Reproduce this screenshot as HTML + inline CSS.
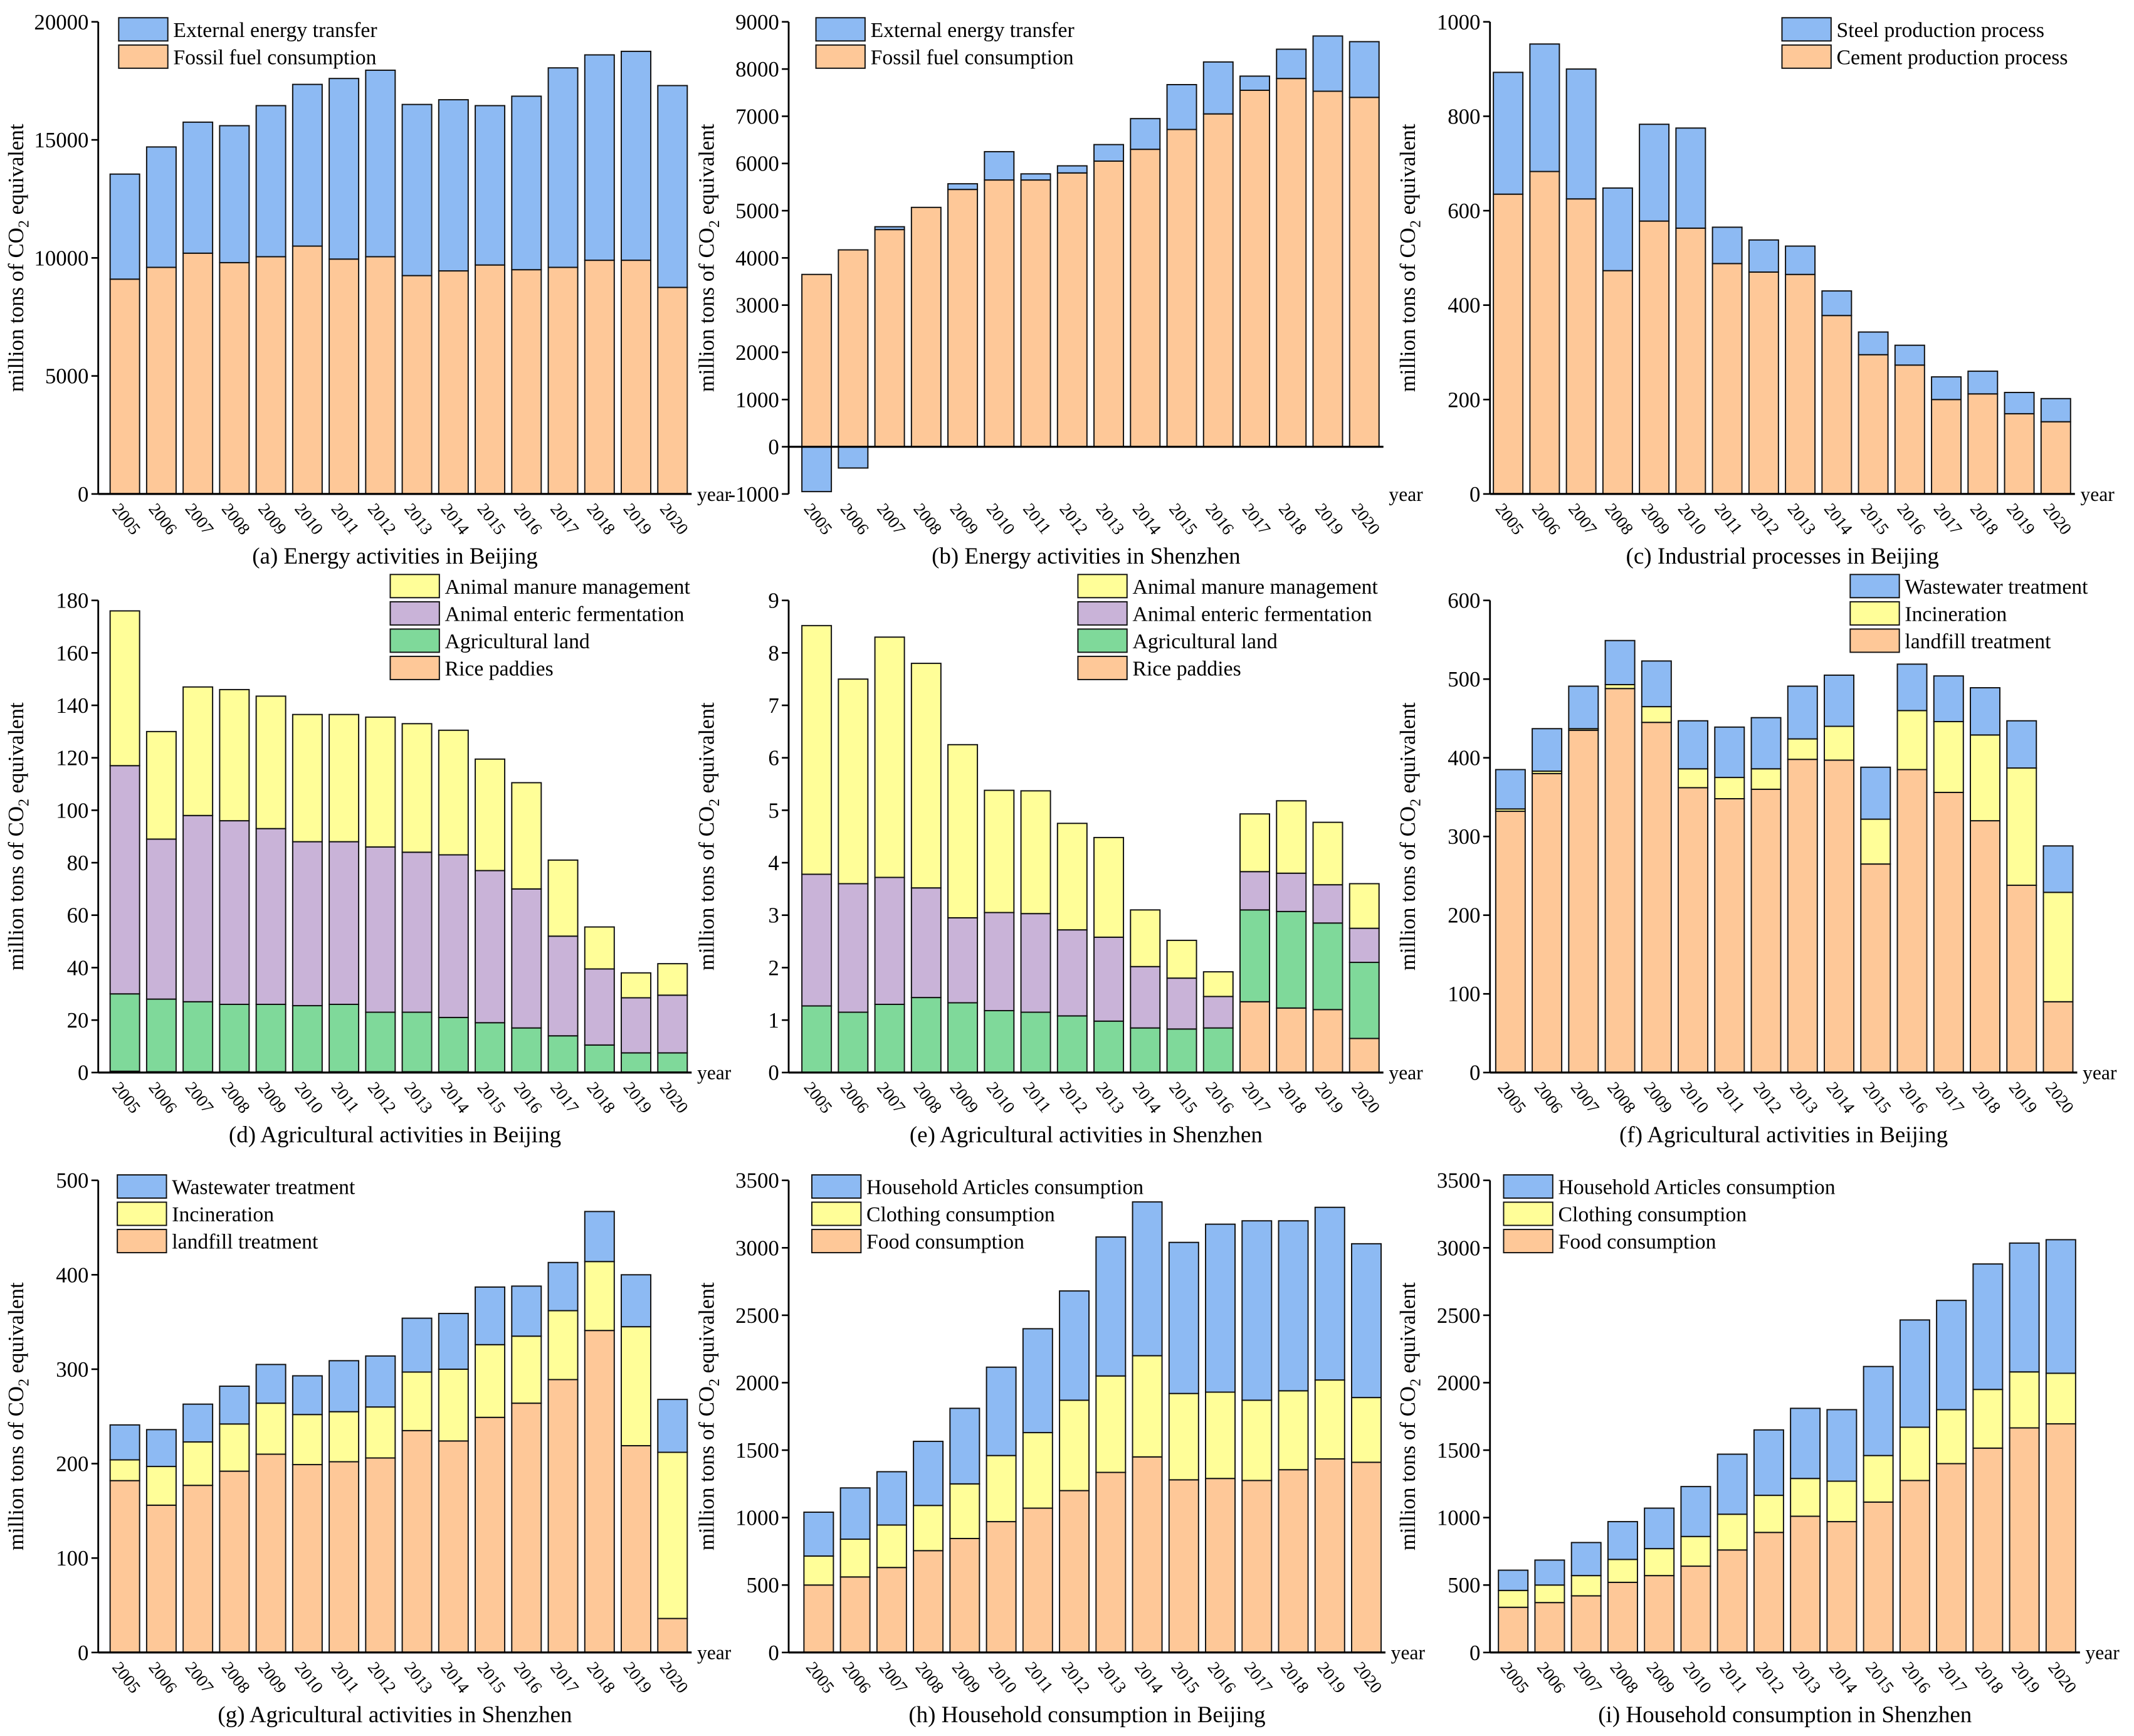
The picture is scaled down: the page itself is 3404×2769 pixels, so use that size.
<!DOCTYPE html>
<html><head><meta charset="utf-8"><style>
html,body{margin:0;padding:0;background:#fff}
svg{display:block}
svg text{font-family:"Liberation Serif","DejaVu Serif",serif;fill:#000}
</style></head><body>
<svg id="chart" width="3404" height="2769" viewBox="0 0 1564 1272.2" preserveAspectRatio="none" font-family="Liberation Serif, serif" xmlns="http://www.w3.org/2000/svg"></svg>
<script>
const years = ["2005","2006","2007","2008","2009","2010","2011","2012","2013","2014","2015","2016","2017","2018","2019","2020"];

const aFossil = [9100,9600,10200,9800,10050,10500,9950,10050,9250,9450,9700,9500,9600,9900,9900,8750];
const aExternal = [4450,5100,5550,5800,6400,6850,7650,7900,7250,7250,6750,7350,8450,8700,8850,8550];

const bFossil = [3650,4170,4600,5070,5450,5650,5650,5800,6050,6300,6720,7050,7550,7800,7530,7400];
const bExternal = [-950,-450,60,0,120,600,130,150,350,650,950,1100,300,620,1170,1180];

const cCement = [635,683,625,473,578,563,488,470,465,378,295,273,200,212,170,153];
const cSteel = [258,270,275,175,205,212,77,68,60,52,48,42,48,48,45,49];

const dRice = [0.5,0.3,0.3,0.3,0.3,0.3,0.3,0.3,0.3,0.3,0.2,0.2,0.2,0.2,0.2,0.2];
const dLand = [29.5,27.7,26.7,25.7,25.7,25.2,25.7,22.7,22.7,20.7,18.8,16.8,13.8,10.3,7.3,7.3];
const dEnteric = [87,61,71,70,67,62.5,62,63,61,62,58,53,38,29,21,22];
const dManure = [59,41,49,50,50.5,48.5,48.5,49.5,49,47.5,42.5,40.5,29,16,9.5,12];

const eRice = [0,0,0,0,0,0,0,0,0,0,0,0,1.35,1.23,1.2,0.65];
const eLand = [1.27,1.15,1.3,1.43,1.33,1.18,1.15,1.08,0.98,0.85,0.83,0.85,1.75,1.84,1.65,1.45];
const eEnteric = [2.51,2.45,2.42,2.09,1.62,1.87,1.88,1.64,1.6,1.17,0.97,0.6,0.73,0.73,0.73,0.65];
const eManure = [4.74,3.9,4.58,4.28,3.3,2.33,2.34,2.03,1.9,1.08,0.72,0.47,1.1,1.38,1.19,0.85];

const fLandfill = [332,380,435,488,445,362,348,360,398,397,265,385,356,320,238,90];
const fIncin = [3,3,2,5,20,24,27,26,26,43,57,75,90,109,149,139];
const fWaste = [50,54,54,56,58,61,64,65,67,65,66,59,58,60,60,59];

const gLandfill = [182,156,177,192,210,199,202,206,235,224,249,264,289,341,219,36];
const gIncin = [22,41,46,50,54,53,53,54,62,76,77,71,73,73,126,176];
const gWaste = [37,39,40,40,41,41,54,54,57,59,61,53,51,53,55,56];

const hFood = [500,560,630,755,845,970,1070,1200,1335,1450,1280,1290,1275,1355,1435,1410];
const hCloth = [215,280,315,335,405,490,560,670,715,750,640,640,595,585,585,480];
const hHouse = [325,380,395,475,560,655,770,810,1030,1140,1120,1245,1330,1260,1280,1140];

const iFood = [335,370,420,520,570,640,760,890,1010,970,1115,1275,1400,1515,1665,1695];
const iCloth = [125,130,150,170,200,220,265,275,280,300,345,395,400,435,415,375];
const iHouse = [150,185,245,280,300,370,445,485,520,530,660,795,810,930,955,990];

const C = {orange:"#fec898", blue:"#8dbaf3", yellow:"#fffe98", purple:"#c9b3d8", green:"#7fd99a"};
const svg = document.getElementById('chart');
const NS = "http://www.w3.org/2000/svg";
const FF = "Liberation Serif, DejaVu Serif, serif";
function mk(tag, attrs, parent){const e=document.createElementNS(NS,tag);for(const k in attrs)e.setAttribute(k,attrs[k]);if(tag==='text')e.setAttribute('font-family',FF);(parent||svg).appendChild(e);return e;}

const panels = [
 {id:"a",L:72,c0:91.5,top:16,bot:362,ymin:0,ymax:20000,step:5000,title:"(a) Energy activities in Beijing",
  series:[["Fossil fuel consumption",C.orange,aFossil],["External energy transfer",C.blue,aExternal]],lx:87,ly:13},
 {id:"b",L:578,c0:598.5,top:16,bot:362,ymin:-1000,ymax:9000,step:1000,title:"(b) Energy activities in Shenzhen",
  series:[["Fossil fuel consumption",C.orange,bFossil],["External energy transfer",C.blue,bExternal]],lx:598,ly:13},
 {id:"c",L:1092,c0:1105.3,top:16,bot:362,ymin:0,ymax:1000,step:200,title:"(c) Industrial processes in Beijing",
  series:[["Cement production process",C.orange,cCement],["Steel  production process",C.blue,cSteel]],lx:1306,ly:13},
 {id:"d",L:72,c0:91.5,top:440,bot:786,ymin:0,ymax:180,step:20,title:"(d) Agricultural activities in Beijing",
  series:[["Rice paddies",C.orange,dRice],["Agricultural land",C.green,dLand],["Animal enteric fermentation",C.purple,dEnteric],["Animal manure management",C.yellow,dManure]],lx:286,ly:421},
 {id:"e",L:578,c0:598.5,top:440,bot:786,ymin:0,ymax:9,step:1,title:"(e) Agricultural activities in Shenzhen",
  series:[["Rice paddies",C.orange,eRice],["Agricultural land",C.green,eLand],["Animal enteric fermentation",C.purple,eEnteric],["Animal manure management",C.yellow,eManure]],lx:790,ly:421},
 {id:"f",L:1092,c0:1107,top:440,bot:786,ymin:0,ymax:600,step:100,title:"(f) Agricultural activities in Beijing",
  series:[["landfill treatment",C.orange,fLandfill],["Incineration",C.yellow,fIncin],["Wastewater treatment",C.blue,fWaste]],lx:1356,ly:421},
 {id:"g",L:72,c0:91.5,top:865,bot:1211,ymin:0,ymax:500,step:100,title:"(g) Agricultural activities in Shenzhen",
  series:[["landfill treatment",C.orange,gLandfill],["Incineration",C.yellow,gIncin],["Wastewater treatment",C.blue,gWaste]],lx:86,ly:861},
 {id:"h",L:578,c0:600,top:865,bot:1211,ymin:0,ymax:3500,step:500,title:"(h) Household consumption in Beijing",
  series:[["Food consumption",C.orange,hFood],["Clothing consumption",C.yellow,hCloth],["Household Articles consumption",C.blue,hHouse]],lx:595,ly:861},
 {id:"i",L:1092,c0:1109,top:865,bot:1211,ymin:0,ymax:3500,step:500,title:"(i) Household consumption in Shenzhen",
  series:[["Food consumption",C.orange,iFood],["Clothing consumption",C.yellow,iCloth],["Household Articles consumption",C.blue,iHouse]],lx:1102,ly:861}
];
const SP = 26.76, BW = 21.6;

panels.forEach(p=>{
  const g = mk('g',{});
  
  
  const y = v => p.bot - (v - p.ymin)/(p.ymax - p.ymin)*(p.bot - p.top);
  const x = i => p.c0 + i*SP;
  const xEnd = x(years.length-1) + 14;
  years.forEach((yr,i)=>{
    let pos=0, neg=0;
    p.series.forEach((s,si)=>{
      const v = s[2][i];
      if(!v) return;
      let a,b;
      if(v>=0){a=pos;b=pos+v;pos=b;} else {a=neg;b=neg+v;neg=b;}
      const r = mk('rect',{x:x(i)-BW/2,y:Math.min(y(a),y(b)),width:BW,height:Math.abs(y(a)-y(b)),fill:s[1],stroke:"#111","stroke-width":0.9},g);
      
      
    });
    const tx0 = x(i)-BW/2+1, ty0 = p.bot+11;
    const t = mk('text',{x:tx0,y:ty0,"font-size":12.5,transform:`rotate(52 ${tx0} ${ty0})`},g);
    t.textContent = yr;
    
    
  });
  const ya = mk('line',{x1:p.L,y1:p.top,x2:p.L,y2:p.bot,stroke:"#000","stroke-width":1.3},g);
  
  
  const xa = mk('line',{x1:p.L,y1:y(0),x2:xEnd,y2:y(0),stroke:"#000","stroke-width":1.5},g);
  
  
  for(let v=p.ymin; v<=p.ymax+1e-9; v+=p.step){
    const vv=Math.round(v*1000)/1000;
    mk('line',{x1:p.L-5,y1:y(vv),x2:p.L,y2:y(vv),stroke:"#000","stroke-width":1.2},g);
    const t = mk('text',{x:p.L-7,y:y(vv)+5.5,"font-size":16,"text-anchor":"end"},g);
    t.textContent = vv;
    
    
  }
  const yl = mk('text',{x:xEnd+4,y:(p.id==="b"?p.bot+5:y(0)+5),"font-size":14.5},g);
  yl.textContent='year';
  
  
  const cy=(p.top+p.bot)/2, tx=p.L-55;
  const yt = mk('text',{x:tx,y:cy,"font-size":16,"text-anchor":"middle",transform:`rotate(-90 ${tx} ${cy})`},g);
  yt.innerHTML = 'million tons of CO<tspan font-size="11" dy="4">2</tspan><tspan dy="-4"> equivalent</tspan>';
  
  
  const tt = mk('text',{x:(p.L+xEnd)/2,y:p.bot+51,"font-size":17,"text-anchor":"middle"},g);
  tt.textContent = p.title;
  
  
  const leg = p.series.slice().reverse();
  leg.forEach((s,k)=>{
    const ly = p.ly + k*20;
    const lr = mk('rect',{x:p.lx,y:ly,width:36,height:17,fill:s[1],stroke:"#111","stroke-width":0.9},g);
    
    
    const lt = mk('text',{x:p.lx+40,y:ly+14,"font-size":15.5},g);
    lt.textContent = s[0];
    
    
  });
});
</script>
</body></html>
